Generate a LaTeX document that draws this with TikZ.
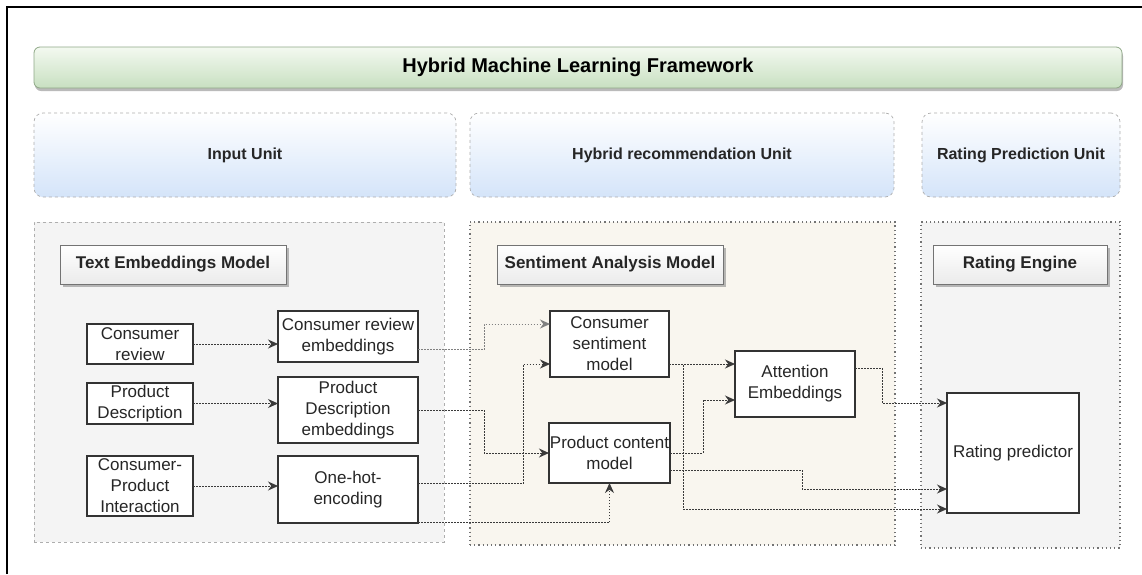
\documentclass[tikz,border=0pt]{standalone}
\usepackage{fontspec}
\setmainfont{Liberation Sans}
\usepackage{xcolor}
\usepackage{tikz}
\usetikzlibrary{arrows.meta, positioning, calc, shadows}

\definecolor{barline}{HTML}{8FA887}
\definecolor{bartop}{HTML}{F3F9F0}
\definecolor{barbot}{HTML}{C8E0C1}
\definecolor{unitblue}{HTML}{D4E4F9}
\definecolor{unitline}{HTML}{AEAEAE}
\definecolor{greybg}{HTML}{F4F4F4}
\definecolor{beigebg}{HTML}{F9F6EF}
\definecolor{linkgrey}{HTML}{3A3A3A}

\tikzset{
  titlebar/.style={draw=barline, line width=0.8pt, rounded corners=6pt, top color=bartop, bottom color=barbot,
    drop shadow={shadow xshift=1pt, shadow yshift=-3pt, fill=black!45, opacity=0.6},
    font=\bfseries\fontsize{20}{24}\selectfont, inner sep=0pt},
  unitbox/.style={draw=unitline, dashed, line width=0.7pt, rounded corners=9pt, top color=white, bottom color=unitblue,
    font=\bfseries\fontsize{16}{19}\selectfont, text=black!85, inner sep=0pt},
  modelbg/.style={draw=unitline, dashed, line width=0.7pt, fill=greybg, inner sep=0pt},
  modeldot/.style={draw=black!55, dash pattern=on 1.2pt off 3pt, line width=1.1pt, inner sep=0pt},
  headbox/.style={draw=black!55, line width=0.8pt, top color=white, bottom color=black!8,
    drop shadow={shadow xshift=3pt, shadow yshift=-3pt, fill=black!45, opacity=0.6},
    minimum height=39pt, inner sep=0pt, font=\bfseries\fontsize{17}{20}\selectfont, text=black!85},
  item/.style={draw=black!80, fill=white, line width=1.1pt, align=center, inner sep=1pt, outer sep=0pt,
    font=\fontsize{17}{21}\selectfont, text=black!85},
  link/.style={draw=linkgrey, line width=1pt, dash pattern=on 1.5pt off 1.5pt, -{Stealth[length=10pt,width=9pt]}},
}

\begin{document}
\begin{tikzpicture}[x=1pt, y=-1pt]
  \useasboundingbox (0,0) rectangle (1142,574);
  \draw [line width=1.5pt] (7,574) -- (7,7) -- (1142,7);

  \node [titlebar, minimum width=1088pt, minimum height=41pt] (title) at (578,67.5) {Hybrid Machine Learning Framework};

  \node [unitbox, minimum width=422pt, minimum height=84pt] (uin) at (245,155) {Input Unit};
  \node [unitbox, minimum width=424pt, minimum height=84pt] (uhy) at (682,155) {Hybrid recommendation Unit};
  \node [unitbox, minimum width=198pt, minimum height=84pt] (ura) at (1021,155) {Rating Prediction Unit};

  \node [modelbg, minimum width=410pt, minimum height=320pt] (bgin) at (239,382) {};
  \node [modeldot, fill=beigebg, minimum width=425pt, minimum height=323pt] (bghy) at (682.5,383.5) {};
  \node [modeldot, fill=greybg, minimum width=199pt, minimum height=326pt] (bgra) at (1020.5,385) {};

  \node [headbox, minimum width=226pt] (htxt) at (173,264.5) {Text Embeddings Model};
  \node [headbox, minimum width=226pt] (hsen) at (610,264.5) {Sentiment Analysis Model};
  \node [headbox, minimum width=174pt] (heng) at (1020,264.5) {Rating Engine};

  \node [item, minimum width=106pt, minimum height=40pt] (cr) at (140,344) {Consumer\\review};
  \node [item, minimum width=106pt, minimum height=41pt] (pd) at (140,403.5) {Product\\Description};
  \node [item, minimum width=106pt, minimum height=60pt] (cpi) at (140,486) {Consumer-\\Product\\Interaction};

  \node [item, minimum width=140pt, minimum height=51pt] (cre) at (348,336.5) {Consumer review\\embeddings};
  \node [item, minimum width=140pt, minimum height=66pt] (pde) at (348,410) {Product\\Description\\embeddings};
  \node [item, minimum width=140pt, minimum height=67pt] (ohe) at (348,489.5) {One-hot-\\encoding};

  \node [item, minimum width=119pt, minimum height=66pt] (csm) at (609.5,344) {Consumer\\sentiment\\model};
  \node [item, minimum width=119pt, minimum height=60pt] (pcm) at (609.5,453) {Product content\\model};
  \node [item, minimum width=120pt, minimum height=66pt] (ae) at (795,384) {Attention\\Embeddings};
  \node [item, minimum width=132pt, minimum height=120pt] (rp) at (1013,453) {Rating predictor};

  \draw [link] (cr.east) -- (cr.east -| cre.west);
  \draw [link] (pd.east) -- (pd.east -| pde.west);
  \draw [link] (cpi.east) -- (cpi.east -| ohe.west);

  \draw [link, draw=black!50, -{Stealth[length=10pt,width=9pt,fill=black!50]}] ($(cre.east)+(0,13)$) -| (484,324) -- ($(csm.west)+(0,-20)$);
  \draw [link] (pde.east) -| (484,453) -- (pcm.west);
  \draw [link] ($(ohe.east)+(0,-6)$) -| (523,364) -- ($(csm.west)+(0,20)$);
  \draw [link] ($(ohe.east)+(0,33)$) -| (pcm.south);

  \draw [link] ($(csm.east)+(0,20)$) -- ($(ae.west)+(0,-20)$);
  \draw [link] (pcm.east) -| (703,400) -- ($(ae.west)+(0,16)$);

  \draw [link] ($(csm.east)+(0,20)$) -- (683,364) |- ($(rp.west)+(0,56)$);
  \draw [link] ($(pcm.east)+(0,17)$) -| (802,489) -- ($(rp.west)+(0,36)$);
  \draw [link] ($(ae.east)+(0,-16)$) -| (882,403) -- ($(rp.west)+(0,-50)$);
\end{tikzpicture}
\end{document}
